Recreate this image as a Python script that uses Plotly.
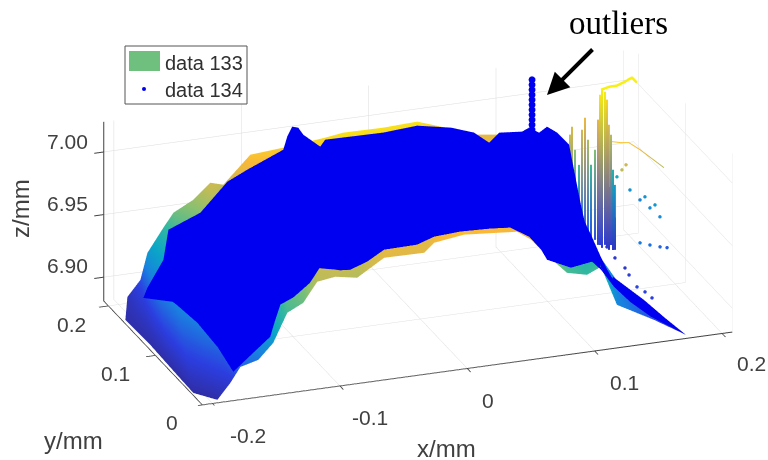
import plotly.graph_objects as go

nan = float("nan")
# measured surface (data 133): back edge and front edge, mm
band_back_x = [-0.1931,-0.1829,-0.1774,-0.1649,-0.157,-0.1413,-0.128,-0.1178,-0.0966,-0.0707,-0.0378,-0.0237,0.0077,0.0344,0.0532,0.0759,0.0995,0.123,0.1387,0.1467,0.147,0.1412,0.1401,0.1371,0.1383,0.1507,0.1716]
band_back_y = [0.2,0.2,0.2,0.2,0.2,0.2,0.2,0.2,0.2,0.2,0.2,0.2,0.2,0.2,0.2,0.2,0.2,0.2,0.2,0.19,0.18,0.16,0.14,0.1,0.05,0.02,0]
band_back_z = [6.8861,6.8983,6.9191,6.9374,6.9483,6.9565,6.9682,6.9652,6.9862,6.9882,6.9916,6.9936,6.9932,6.9943,6.9876,6.9781,6.9748,6.9715,6.9693,6.9641,6.948,6.9328,6.9248,6.9171,6.9087,6.8989,6.8839]
band_front_x = [-0.2076,-0.2064,-0.2071,-0.2077,-0.1962,-0.1831,-0.1752,-0.1611,-0.1494,-0.1384,-0.1258,-0.1149,-0.1007,-0.0835,-0.0623,-0.0309,-0.0231,0.0004,0.042,0.053,0.0632,0.0812,0.0969,0.1079,0.1193,0.1472,0.1716]
band_front_y = [0.165,0.115,0.06,0.02,0,0.008,0.008,0.008,0.008,0.008,0.008,0.008,0.008,0.008,0.008,0.008,0.008,0.008,0.008,0.008,0.008,0.008,0.008,0.008,0.005,0.002,0]
band_front_z = [6.8836,6.8832,6.8827,6.8826,6.8834,6.8919,6.9036,6.9073,6.9192,6.9417,6.9479,6.9632,6.9652,6.962,6.975,6.9746,6.9815,6.9847,6.9812,6.9733,6.9615,6.9429,6.9391,6.944,6.9132,6.8985,6.8839]

# measured point cloud (data 134) extent: back and front limits, mm
cloud_back_x = [-0.199,-0.1922,-0.1759,-0.1683,-0.1432,-0.122,-0.1064,-0.0781,-0.075,-0.0711,-0.0664,-0.0624,-0.0491,-0.0452,0.0003,0.027,0.0536,0.0717,0.0835,0.0766,0.0946,0.1001,0.108,0.1142,0.1221,0.1315,0.1354,0.134,0.1307,0.1497,0.1588,0.1716]
cloud_back_y = [0.15,0.16,0.17,0.18,0.18,0.18,0.18,0.18,0.18,0.18,0.18,0.18,0.18,0.18,0.18,0.18,0.18,0.18,0.18,0.14,0.14,0.14,0.14,0.14,0.14,0.14,0.14,0.1,0.07,0.03,0.01,0]
cloud_back_z = [6.9059,6.909,6.9252,6.9442,6.9543,6.9761,6.9835,6.9955,7.0055,7.0129,7.0115,7.0053,6.9939,6.9989,6.9982,7.0,6.9947,6.9882,6.9785,7.0033,7.0016,7.004,6.9989,7.0028,6.997,6.986,6.9415,6.9295,6.9155,6.903,6.8953,6.8839]
cloud_front_x = [-0.199,-0.1939,-0.1935,-0.1925,-0.1837,-0.168,-0.1547,-0.1468,-0.1366,-0.1233,-0.1155,-0.1037,-0.0919,-0.0786,-0.0653,-0.0394,-0.026,-0.0056,0.0179,0.0336,0.0485,0.0579,0.0626,0.0814,0.0979,0.0979,0.1049,0.1151,0.1277,0.1442,0.1567,0.1716]
cloud_front_y = [0.15,0.1,0.05,0.01]+[0]*28
cloud_front_z = [6.9059,6.9218,6.9248,6.9213,6.904,6.917,6.9279,6.9484,6.9534,6.9635,6.9736,6.9736,6.9727,6.9773,6.985,6.9854,6.9899,6.9911,6.9902,6.9888,6.9795,6.9678,6.9591,6.9501,6.9526,6.9526,6.9452,6.9302,6.9164,6.9021,6.8939,6.8839]

# outlier spike of data 134
spike_x = [0.1245]*11
spike_y = [0.2]*11
spike_z = [7.0152,7.0112,7.0072,7.0032,6.9992,6.9952,6.9912,6.9872,6.9832,6.9792,6.9752]

# right-hand streaks of data 133: top and bottom of each
streak_top_x = [0.1544,0.1559,0.1583,0.1614,0.1638,0.1661,0.1685,0.1708,0.174,0.1763,0.1779,0.1795,0.1818,0.1834,0.1849,0.1865,0.1881,0.1896]
streak_top_z = [6.9671,6.9732,6.9545,6.942,6.9697,6.979,6.9611,6.9408,6.9523,6.976,6.9957,6.9996,6.9976,6.991,6.9708,6.9625,6.9344,6.9221]
streak_bot_x = [0.1396,0.1412,0.1435,0.1467,0.149,0.1514,0.1537,0.1561,0.1592,0.1616,0.1631,0.1647,0.1671,0.1686,0.1702,0.1718,0.1733,0.1749]
streak_bot_z = [6.9129,6.9128,6.91,6.9096,6.906,6.9033,6.903,6.8987,6.8982,6.8939,6.8936,6.8911,6.8931,6.8905,6.8887,6.8924,6.8882,6.888]

ledge_x = [0.1787,0.1857,0.1912,0.1975,0.203,0.2069]
ledge_z = [6.9996,7.0011,7.0011,7.0034,7.0059,7.0013]
olive_x = [0.1615,0.1685,0.1748,0.1835,0.1929,0.2023]
olive_z = [6.9882,6.9864,6.9855,6.9787,6.9702,6.9617]

scatter_x = [0.1693,0.1725,0.1912,0.2014,0.2056,0.206,0.2065,0.2063,0.2058,0.1798,0.1876,0.1955,0.201,0.1686,0.1675,0.168,0.1638,0.159,0.1616,0.1634]
scatter_y = [0.13,0.13,0.2,0.2,0.19,0.17,0.15,0.16,0.18,0.12,0.12,0.12,0.12,0.16,0.14,0.12,0.1,0.07,0.06,0.05]
scatter_z = [6.9646,6.9682,6.9283,6.9164,6.9118,6.9133,6.914,6.9196,6.9182,6.9088,6.906,6.9034,6.902,6.8913,6.8906,6.8904,6.8933,6.8963,6.8959,6.8948]

x_ticks = [-0.2, -0.1, 0, 0.1, 0.2]
x_labels = ["-0.2", "-0.1", "0", "0.1", "0.2"]
y_ticks = [0, 0.1, 0.2]
y_labels = ["0", "0.1", "0.2"]
z_ticks = [6.9, 6.95, 7.0]
z_labels = ["6.90", "6.95", "7.00"]

parula = [[0,"#2f2a9a"],[0.125,"#2c3ee0"],[0.25,"#1a7fe0"],[0.375,"#0aa5c8"],[0.5,"#33b8a0"],[0.625,"#8cc070"],[0.75,"#d0ba50"],[0.875,"#f9b838"],[1,"#f8f010"]]
cmin, cmax = 6.88, 6.998
flat = dict(ambient=1, diffuse=0, specular=0, fresnel=0, roughness=1)
FONT = "Liberation Sans"
INK = "#404040"

fig = go.Figure()
fig.add_trace(go.Surface(
    x=[band_back_x, band_front_x], y=[band_back_y, band_front_y], z=[band_back_z, band_front_z],
    surfacecolor=[band_back_z, band_front_z], colorscale=parula, cmin=cmin, cmax=cmax,
    showscale=False, lighting=flat, name="data 133"))
sx, sy, sz = [], [], []
for a, b, c, d in zip(streak_top_x, streak_top_z, streak_bot_x, streak_bot_z):
    sx += [a, c, nan]; sy += [0.2, 0.16, nan]; sz += [b, d, nan]
fig.add_trace(go.Scatter3d(x=sx, y=sy, z=sz, mode="lines", name="data 133", connectgaps=False,
    line=dict(width=4, color=[v if v == v else cmin for v in sz], colorscale=parula, cmin=cmin, cmax=cmax)))
fig.add_trace(go.Scatter3d(x=ledge_x, y=[0.2]*len(ledge_x), z=ledge_z, mode="lines", name="data 133",
    line=dict(width=5, color=ledge_z, colorscale=parula, cmin=cmin, cmax=cmax)))
fig.add_trace(go.Scatter3d(x=olive_x, y=[0.13]*len(olive_x), z=olive_z, mode="lines", name="data 133",
    line=dict(width=2, color=olive_z, colorscale=parula, cmin=cmin, cmax=cmax)))
fig.add_trace(go.Scatter3d(x=scatter_x, y=scatter_y, z=scatter_z, mode="markers", name="data 133",
    marker=dict(size=2, color=scatter_z, colorscale=parula, cmin=cmin, cmax=cmax)))
fig.add_trace(go.Surface(
    x=[cloud_back_x, cloud_front_x], y=[cloud_back_y, cloud_front_y], z=[cloud_back_z, cloud_front_z],
    surfacecolor=[[0]*len(cloud_back_x)]*2, colorscale=[[0,"#0000f0"],[1,"#0000f0"]], cmin=0, cmax=1,
    showscale=False, lighting=flat, name="data 134"))
fig.add_trace(go.Scatter3d(x=spike_x, y=spike_y, z=spike_z, mode="markers", name="data 134",
    marker=dict(size=4, color="#0000f0")))

L = 0.8
d = (-.3141, -.8697, .3807)
axis = dict(showbackground=False, gridcolor="#dcdcdc", gridwidth=1, showline=True, linecolor=INK, linewidth=2,
            ticks="outside", ticklen=10, tickcolor=INK, tickwidth=2, showticklabels=False,
            zeroline=False, showspikes=False, title=dict(text=""))

def label(text, px, py, size=21, color=INK, family=FONT, anchor="center", angle=0):
    return dict(text=text, x=px/768, y=1-py/460, xref="paper", yref="paper", xanchor=anchor, yanchor="middle",
                showarrow=False, textangle=angle, font=dict(family=family, size=size, color=color))

notes = [label(t, px, py) for t, (px, py) in zip(x_labels, [(248,435),(370,417),(488,400),(624,382),(751,363)])]
notes += [label(t, px, py) for t, (px, py) in zip(y_labels, [(172,422),(115,373),(71,324)])]
notes += [label(t, px, py) for t, (px, py) in zip(z_labels, [(67,265),(67,203),(67,141)])]
notes += [
    label("data 133", 163, 63, size=20, color="#303030", anchor="left"),
    label("data 134", 163, 90, size=20, color="#303030", anchor="left"),
    label("outliers", 618, 23, size=33, color="black", family="Liberation Serif"),
    label("x/mm", 446, 448, size=24),
    label("y/mm", 73, 440, size=24),
    label("z/mm", 21, 209, size=24, angle=-90),
    dict(text="", x=547/768, y=1-95/460, ax=47, ay=-47, xref="paper", yref="paper", showarrow=True, arrowhead=2, arrowsize=1.1, arrowwidth=4, arrowcolor="black"),
]
fig.update_layout(
    width=768, height=460, margin=dict(l=0, r=0, t=0, b=0), showlegend=False, paper_bgcolor="white",
    scene=dict(
        domain=dict(x=[0.088, 1], y=[0.013, 1]),
        aspectmode="manual", aspectratio=dict(x=2.482, y=1.279, z=0.853),
        camera=dict(projection=dict(type="orthographic"), eye=dict(x=d[0]*L, y=d[1]*L, z=d[2]*L), center=dict(x=0, y=0, z=0), up=dict(x=0, y=0, z=1)),
        xaxis=dict(range=[-0.208, 0.208], tickvals=x_ticks, **axis),
        yaxis=dict(range=[0, 0.21], tickvals=y_ticks, **axis),
        zaxis=dict(range=[6.881, 7.024], tickvals=z_ticks, **axis),
    ),
    shapes=[
        dict(type="rect", xref="paper", yref="paper", x0=125/768, x1=247/768, y0=1-104/460, y1=1-46/460, line=dict(color="#555555", width=1), fillcolor="white"),
        dict(type="rect", xref="paper", yref="paper", x0=129/768, x1=160/768, y0=1-71/460, y1=1-51/460, line=dict(width=0), fillcolor="#6fc07f"),
        dict(type="circle", xref="paper", yref="paper", x0=142/768, x1=146/768, y0=1-91/460, y1=1-87/460, line=dict(width=0), fillcolor="#0000f0"),
    ],
    annotations=notes,
)
fig.write_html("out.html", config={"displayModeBar": False}, post_script="document.body.style.margin='0';")
